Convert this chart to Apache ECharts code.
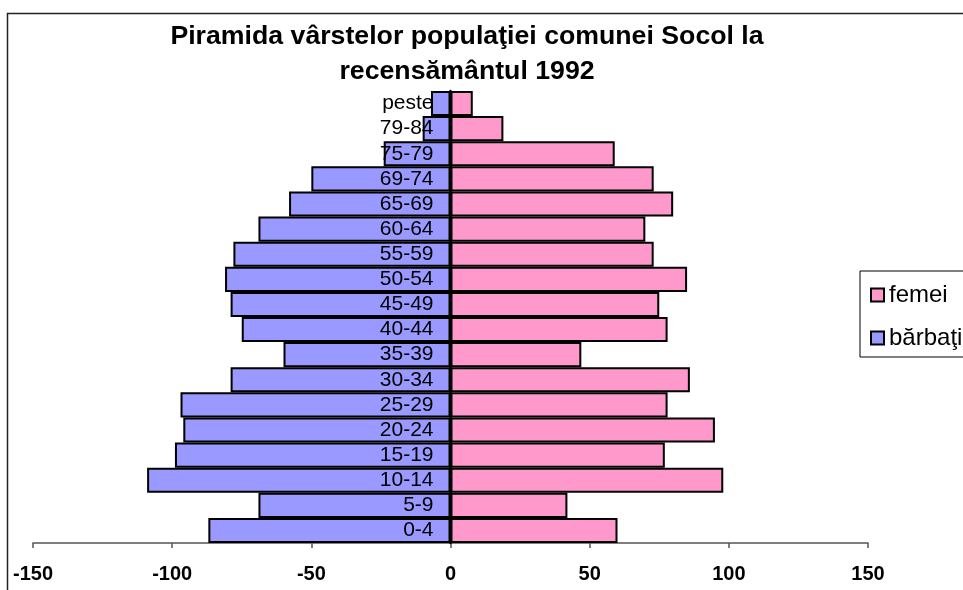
<!DOCTYPE html>
<html>
<head>
<meta charset="utf-8">
<title>Piramida varstelor - Socol 1992</title>
<script src="https://cdn.jsdelivr.net/npm/echarts@6/dist/echarts.min.js"></script>
<style>
    html, body { margin: 0; padding: 0; background: #fff; }
    #chartBox { width: 963px; height: 590px; }
</style>
</head>
<body>
<div id="chartBox"></div>
<script>
    // grupe de varsta, de jos in sus (asa cum apar in grafic)
    const ageGroups = ['0-4', '5-9', '10-14', '15-19', '20-24', '25-29', '30-34', '35-39', '40-44',
        '45-49', '50-54', '55-59', '60-64', '65-69', '69-74', '75-79', '79-84', 'peste'];
    // barbati - negativi ca sa fie in stanga
    const barbati = [-87, -69, -109, -99, -96, -97, -79, -60, -75, -79, -81, -78, -69, -58, -50, -24, -10, -7];
    const femei = [60, 42, 98, 77, 95, 78, 86, 47, 78, 75, 85, 73, 70, 80, 73, 59, 19, 8];
    const xTicks = { min: -150, max: 150, interval: 50 };

    const font = 'Liberation Sans, Arial, sans-serif';
    const gridLeft = 33;
    const gridWidth = 835;
    let myChart = echarts.init(document.getElementById('chartBox'));
    myChart.setOption({
        animation: false,
        title: {
            text: 'Piramida vârstelor populaţiei comunei Socol la\nrecensământul 1992',
            left: 462,
            top: 14,
            textAlign: 'center',
            textStyle: {
                color: '#000',
                fontFamily: font,
                fontWeight: 'bold',
                fontSize: 26.7,
                lineHeight: 35
            }
        },
        legend: {
            orient: 'vertical',
            left: 860,
            top: 271,
            padding: [12, 40, 7, 10],
            icon: 'rect',
            itemWidth: 13,
            itemHeight: 13,
            itemGap: 19,
            borderColor: '#000',
            borderWidth: 1,
            data: ['femei', 'bărbaţi'],
            textStyle: {
                color: '#000',
                fontFamily: font,
                fontSize: 24,
                lineHeight: 23
            }
        },
        graphic: [
            {
                // chenarul exterior al graficului
                type: 'rect',
                shape: { x: 7.5, y: 13.5, width: 1000, height: 1000 },
                style: { fill: 'none', stroke: '#222', lineWidth: 1.5 },
                silent: true
            }
        ],
        grid: {
            left: gridLeft,
            width: gridWidth,
            top: 91,
            bottom: 47,
            containLabel: false,
            outerBoundsMode: 'none'
        },
        xAxis: {
            type: 'value',
            min: xTicks.min,
            max: xTicks.max,
            interval: xTicks.interval,
            splitLine: { show: false },
            axisLine: { show: true, onZero: false, lineStyle: { color: '#555', width: 1.5 } },
            axisTick: { show: true, length: 5, lineStyle: { color: '#555', width: 1.5 } },
            axisLabel: {
                margin: 21,
                color: '#000',
                fontFamily: font,
                fontWeight: 'bold',
                fontSize: 20
            }
        },
        yAxis: {
            type: 'category',
            data: ageGroups,
            z: 10,
            position: 'left',
            // axa verticala mutata pe valoarea 0 din mijloc
            offset: -gridWidth / 2,
            axisLine: { show: true, onZero: false, lineStyle: { color: '#000', width: 2.5 } },
            axisTick: { show: false },
            axisLabel: {
                interval: 0,
                margin: 17,
                color: '#000',
                fontFamily: font,
                fontSize: 21
            }
        },
        series: [
            {
                name: 'femei',
                type: 'bar',
                data: femei,
                barGap: '-100%',
                barCategoryGap: '0%',
                itemStyle: { color: '#FF99CC', borderColor: '#000', borderWidth: 2 }
            },
            {
                name: 'bărbaţi',
                type: 'bar',
                data: barbati,
                barGap: '-100%',
                barCategoryGap: '0%',
                itemStyle: { color: '#9999FF', borderColor: '#000', borderWidth: 2 }
            }
        ]
    });
</script>
</body>
</html>
